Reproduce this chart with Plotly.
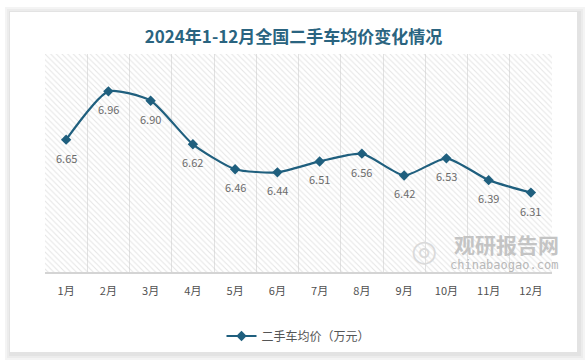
import plotly.graph_objects as go

months = ["1月", "2月", "3月", "4月", "5月", "6月", "7月", "8月", "9月", "10月", "11月", "12月"]
avg_price = [6.65, 6.96, 6.90, 6.62, 6.46, 6.44, 6.51, 6.56, 6.42, 6.53, 6.39, 6.31]
series_name = "二手车均价（万元）"
title_text = "2024年1-12月全国二手车均价变化情况"

W, H = 587, 362
ML, MR, MT, MB = 45, 35, 54, 90
PW, PH = W - ML - MR, H - MT - MB

def px_x(p):
    return (p - ML) / PW

def px_y(p):
    return (H - MB - p) / PH

LINE_COLOR = "#1f5f7e"
FONT = "Noto Sans CJK SC"

fig = go.Figure()

# hatched plot background (decoration on hidden numeric axes)
fig.add_trace(go.Bar(
    x=[0.5], y=[1], width=[1], xaxis="x", yaxis="y",
    marker=dict(color="rgba(0,0,0,0)", line=dict(width=0),
                pattern=dict(shape="\\", fgcolor="#cccccc", bgcolor="rgba(0,0,0,0)",
                             size=4, solidity=0.28)),
    showlegend=False, hoverinfo="skip",
))

fig.add_trace(go.Scatter(
    x=months, y=avg_price, xaxis="x2", yaxis="y2",
    mode="lines+markers", name=series_name,
    line=dict(color=LINE_COLOR, width=2.2, shape="spline", smoothing=0.6),
    marker=dict(symbol="diamond", size=8, color=LINE_COLOR),
))

annotations = []
for m, v in zip(months, avg_price):
    annotations.append(dict(
        x=m, y=v, xref="x2", yref="y2", text=f"{v:.2f}", showarrow=False,
        yshift=-18, font=dict(family=FONT, size=11, color="#6b6b6b"),
    ))

# watermark
annotations.append(dict(x=px_x(506), y=px_y(244), xref="paper", yref="paper",
                        xanchor="center", yanchor="middle",
                        text="<b>观研报告网</b>", showarrow=False,
                        font=dict(family=FONT, size=21, color="#c4c4c4")))
annotations.append(dict(x=px_x(504), y=px_y(265), xref="paper", yref="paper",
                        xanchor="center", yanchor="middle",
                        text="chinabaogao.com", showarrow=False,
                        font=dict(family="DejaVu Sans Mono", size=12, color="#b8b8b8")))
annotations.append(dict(x=px_x(424), y=px_y(250), xref="paper", yref="paper",
                        xanchor="center", yanchor="middle",
                        text="◎", showarrow=False,
                        font=dict(family="DejaVu Sans", size=30, color="#dadada")))

shapes = []
# card shadow layers
for i, col in enumerate(["#f4f4f4", "#ececec", "#e3e3e3"]):
    d = 3 - i
    shapes.append(dict(type="rect", xref="paper", yref="paper", layer="below",
                       x0=px_x(10 - d * 2 + 1), x1=px_x(577 + d * 2 + 2),
                       y0=px_y(352 + d * 2 + 2), y1=px_y(12 - d * 2 + 1),
                       line=dict(width=0), fillcolor=col))
shapes.append(dict(type="rect", xref="paper", yref="paper", layer="below",
                   x0=px_x(10), x1=px_x(577), y0=px_y(352), y1=px_y(12),
                   line=dict(width=0), fillcolor="white"))

fig.update_layout(
    width=W, height=H,
    margin=dict(l=ML, r=MR, t=MT, b=MB),
    paper_bgcolor="white", plot_bgcolor="rgba(0,0,0,0)",
    title=dict(text=f"<b>{title_text}</b>", x=0.5, xanchor="center",
               y=1 - 37 / H, yanchor="middle",
               font=dict(family=FONT, size=17, color="#2a6480")),
    xaxis=dict(range=[0, 1], visible=False, fixedrange=True),
    yaxis=dict(range=[0, 1], visible=False, fixedrange=True),
    xaxis2=dict(overlaying="x", type="category", range=[-0.5, 11.5],
                tickson="boundaries", showgrid=True, gridcolor="#e2e2e2", gridwidth=1,
                showline=True, linecolor="#d4d4d4", linewidth=1.5, ticks="",
                tickfont=dict(family=FONT, size=11, color="#505050"), ticklabelstandoff=8,
                zeroline=False),
    yaxis2=dict(overlaying="y", range=[5.8, 7.2], visible=False, showgrid=False),
    bargap=0,
    showlegend=True,
    legend=dict(orientation="h", x=0.5, xanchor="center", y=px_y(336), yanchor="middle",
                font=dict(family=FONT, size=12, color="#555555"),
                bgcolor="rgba(0,0,0,0)"),
    annotations=annotations,
    shapes=shapes,
)

fig.write_html("out.html", config={"displayModeBar": False},
               post_script="document.body.style.margin='0';")
